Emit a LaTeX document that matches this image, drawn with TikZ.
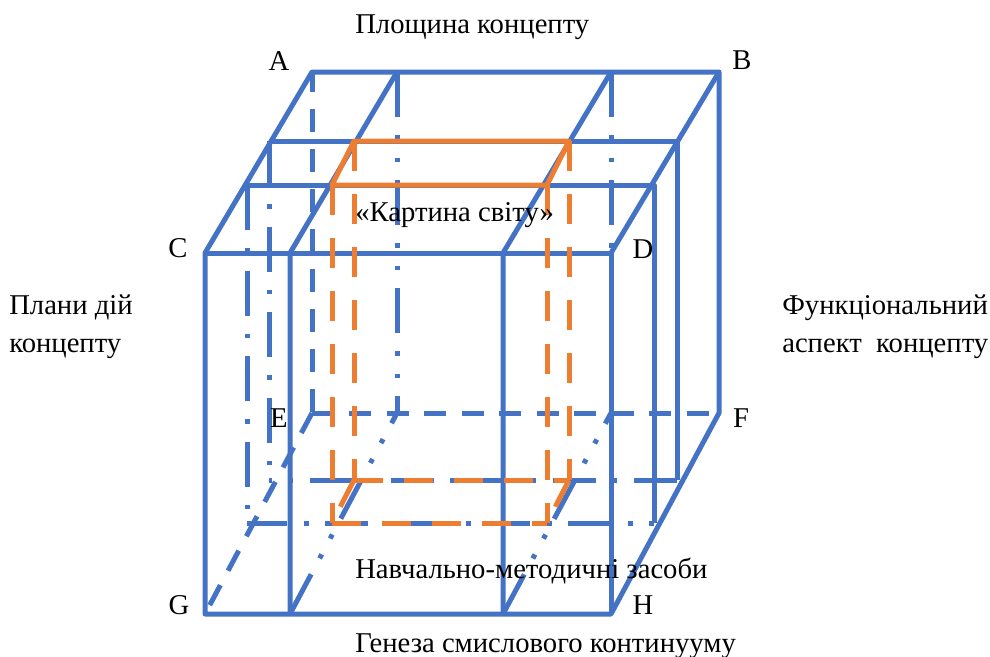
\documentclass[tikz,border=0pt]{standalone}
\usepackage{fontspec}
\setmainfont{Liberation Serif}
\definecolor{frameblue}{RGB}{68, 114, 196}
\definecolor{planeorange}{RGB}{237, 125, 49}
\tikzset{
  edge/.style = {draw=frameblue, line width=3.75pt, line join=round},
  edgedash/.style = {edge, dash pattern=on 17.25pt off 12.75pt},
  edgedashh/.style = {edge, dash pattern=on 16.5pt off 11.6pt},
  edgedashd/.style = {edge, dash pattern=on 17pt off 12.25pt},
  edgedot/.style = {edge, dash pattern=on 33.75pt off 13.5pt on 3.4pt off 13.5pt on 3.4pt off 13.5pt},
  edgeline/.style = {edge, dash pattern=on 33.75pt off 13.5pt on 3.4pt off 13.5pt},
  edgelineh/.style = {edge, dash pattern=on 32.25pt off 12.75pt on 3.75pt off 12pt},
  plane/.style = {draw=planeorange, line width=3.75pt, line join=round},
  planedash/.style = {plane, dash pattern=on 22.5pt off 17.25pt},
  planedashh/.style = {plane, dash pattern=on 21.75pt off 15.75pt},
  vertex/.style = {font=\fontsize{21.5}{21.5}\selectfont, inner sep=0pt},
  caption/.style = {font=\fontsize{21.5}{28.5}\selectfont, inner sep=0pt, align=left}
}
\begin{document}
\begin{tikzpicture}[x=0.75pt, y=-0.75pt]
\useasboundingbox (0,0) rectangle (990,657);

% corners of the cube
\coordinate (a) at (312,72);
\coordinate (b) at (719,72);
\coordinate (c) at (205,253);
\coordinate (d) at (611,253);
\coordinate (e) at (312,413);
\coordinate (f) at (719,413);
\coordinate (g) at (205,614);
\coordinate (h) at (611,614);

% top and bottom marks
\coordinate (t1) at (397,72);
\coordinate (t2) at (611,72);
\coordinate (t3) at (290,253);
\coordinate (t4) at (503,253);
\coordinate (b1) at (397,413);
\coordinate (b2) at (611,413);
\coordinate (b3) at (290,614);
\coordinate (b4) at (503,614);

% inner frames
\coordinate (m1) at (269,141);
\coordinate (m2) at (677,141);
\coordinate (m3) at (269,480);
\coordinate (m4) at (677,480);
\coordinate (n1) at (247,185);
\coordinate (n2) at (654,185);
\coordinate (n3) at (247,523);
\coordinate (n4) at (654,523);

% orange plane
\coordinate (p1) at (354,141);
\coordinate (p2) at (569,141);
\coordinate (p3) at (547,185);
\coordinate (p4) at (332,185);
\coordinate (q1) at (354,480);
\coordinate (q2) at (569,480);
\coordinate (q3) at (547,523);
\coordinate (q4) at (332,523);

% hidden edges =============================
\path[edgedash, dash phase=2.25pt] (a) -- (e);
\path[edgedashh] (e) -- (f);
\path[edgedashd] (e) -- (g);
\path[edgedot] (t1) -- (b1);
\path[edgedot] (t2) -- (d);
\path[edgedot] (b3) -- (b1);
\path[edgedot] (b4) -- (b2);
\path[edgeline] (n1) -- (n3);
\path[edgeline] (m1) -- (m3);
\path[edgelineh] (m4) -- (m3);
\path[edgelineh, dash phase=2.25pt] (n3) -- (n4);

% solid edges =============================
\path[edge] (a) -- (b) -- (f) -- (h) -- (g) -- (c) -- cycle;
\path[edge] (c) -- (d) -- (h);
\path[edge] (b) -- (d);
\path[edge] (t1) -- (t3) -- (b3);
\path[edge] (t2) -- (t4) -- (b4);
\path[edge] (m1) -- (m2) -- (m4);
\path[edge] (n1) -- (n2) -- (n4);

% orange plane =============================
\path[plane] (p1) -- (p2) -- (p3) -- (p4) -- cycle;
\path[planedash] (p1) -- (q1);
\path[planedash] (p2) -- (q2);
\path[planedash] (p4) -- (q4);
\path[planedash] (p3) -- (q3);
\path[planedashh] (q1) -- (q2);
\path[planedashh] (q4) -- (q3);
\path[planedash] (q1) -- (q4);
\path[planedash] (q2) -- (q3);

% labels
\node[vertex] (la) at (279,61) {A};
\node[vertex] (lb) at (742,60) {B};
\node[vertex] (lc) at (178,248) {C};
\node[vertex] (ld) at (643,249) {D};
\node[vertex] (le) at (279,418) {E};
\node[vertex] (lf) at (741,418) {F};
\node[vertex] (lg) at (179,605) {G};
\node[vertex] (lh) at (643,605) {H};

\node[caption, anchor=west] (top) at (355,27) {Площина концепту};
\node[caption, anchor=west] (world) at (355,215) {«Картина світу»};
\node[caption, anchor=west] (means) at (355,571) {Навчально-методичні засоби};
\node[caption, anchor=west] (genesis) at (355,646) {Генеза смислового континууму};
\node[caption, anchor=west] (left) at (9,327) {Плани дій\\концепту};
\node[caption, anchor=west] (right) at (782,327) {Функціональний\\аспект\ \ концепту};

\end{tikzpicture}
\end{document}
